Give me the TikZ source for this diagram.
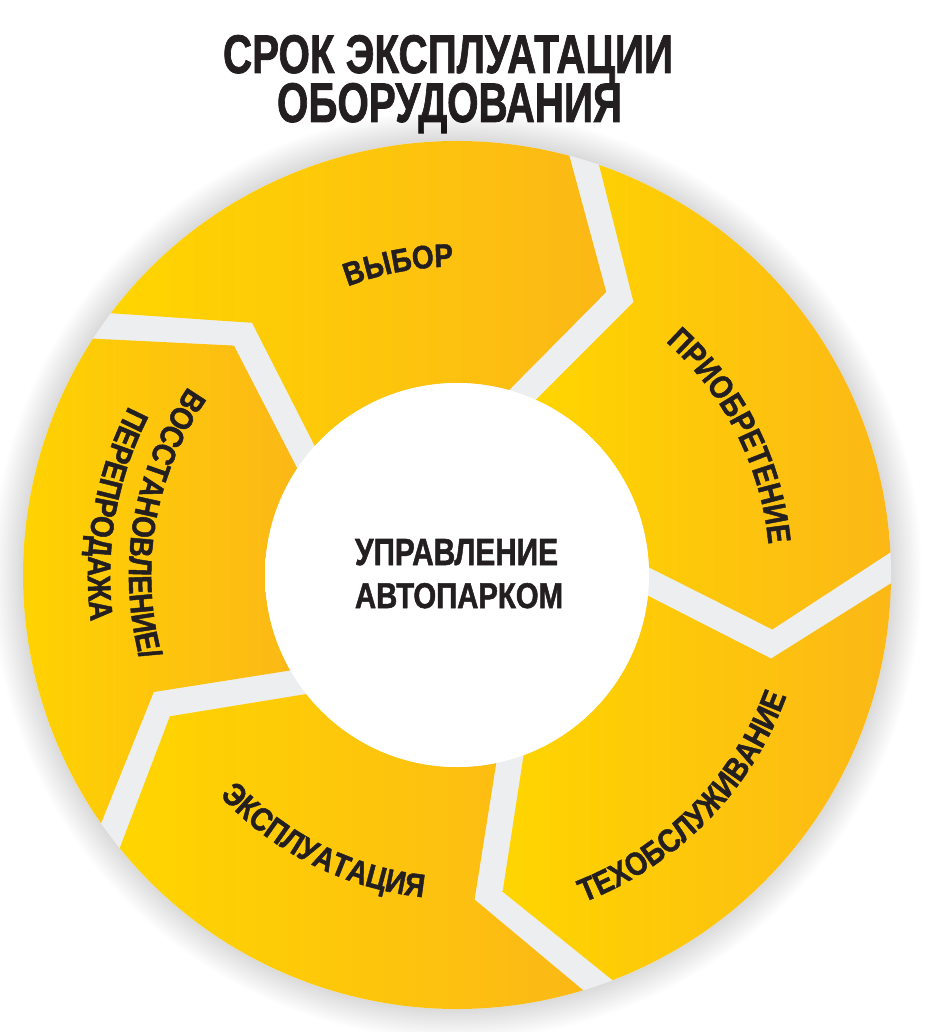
\documentclass[tikz,border=0pt]{standalone}
\usepackage{fontspec}
\usetikzlibrary{decorations.text}
\newfontfamily\condfam{Liberation Sans}[FakeStretch=0.86, BoldFeatures={FakeBold=1.4}]
\definecolor{segY}{HTML}{FFD500}
\definecolor{segO}{HTML}{FCB816}
\definecolor{gapgrey}{HTML}{EDEEEF}
\definecolor{txt}{HTML}{231F20}
\definecolor{glowgrey}{HTML}{E8E9EA}
\pgfdeclareradialshading{innerglow}{\pgfpoint{0bp}{0bp}}{color(0bp)=(white); color(42bp)=(white); color(50bp)=(glowgrey)}
\newcommand{\lblfont}{\condfam\bfseries\fontsize{32.5pt}{36pt}\selectfont}
\newcommand{\bigfont}{\condfam\bfseries\fontsize{53pt}{60pt}\selectfont}
\newcommand{\ringpiece}[1]{%
  \shade[segshade] ({142.9+(#1)}:434) arc[start angle={142.9+(#1)}, end angle={75+(#1)}, radius=434]
    -- ({62.2+(#1)}:320) -- ({74.3+(#1)}:192)
    arc[start angle={74.3+(#1)}, end angle={137.8+(#1)}, radius=192]
    -- ({129.1+(#1)}:325) -- cycle;}
\begin{document}
\begin{tikzpicture}[x=1pt,y=1pt,
  segshade/.style={left color=segY, right color=segO},
  lbl/.style={decorate, decoration={text along path, text color=txt, text align=center, text={#1}}}]
\useasboundingbox (0,0) rectangle (930,-1032);
\fill[white] (0,0) rectangle (930,-1032);
% titles
\node[anchor=base, inner sep=0pt, text=txt] (title1) at (448,-73) {\resizebox{450pt}{38pt}{\bigfont СРОК ЭКСПЛУАТАЦИИ}};
\node[anchor=base, inner sep=0pt, text=txt] (title2) at (449.5,-122) {\resizebox{345pt}{39pt}{\bigfont ОБОРУДОВАНИЯ}};
\begin{scope}[shift={(457,-575)}]
  % soft outer shadow
  \foreach \i in {1,...,18} {\fill[black, opacity=0.006] (0,0) circle ({434+1.7*\i});}
  \fill[gapgrey] (0,0) circle (434);
  % five arrow segments
  \ringpiece{0}
  \ringpiece{-72}
  \ringpiece{-144}
  \ringpiece{-216}
  \ringpiece{-288}
  % inner hub
  \shade[shading=innerglow] (0,0) circle (192);
  % labels
  \path[lbl={|\lblfont|ВЫБОР}] (150.7:308.5) arc[start angle=150.7, end angle=50.7, radius=308.5];
  \path[lbl={|\lblfont|ПРИОБРЕТЕНИЕ}] (86.9:313) arc[start angle=86.9, end angle=-33.1, radius=313];
  \path[lbl={|\lblfont|ТЕХОБСЛУЖИВАНИЕ}] (-104.5:351) arc[start angle=-104.5, end angle=15.5, radius=351];
  \path[lbl={|\lblfont|ЭКСПЛУАТАЦИЯ}] (-166.5:324) arc[start angle=-166.5, end angle=-66.5, radius=324];
  \path[lbl={|\lblfont|ВОССТАНОВЛЕНИЕ/}] (110:328) arc[start angle=110, end angle=230, radius=328];
  \path[lbl={|\lblfont|ПЕРЕПРОДАЖА}] (110:369) arc[start angle=110, end angle=230, radius=369];
\end{scope}
\node[anchor=base, inner sep=0pt, text=txt] (hub1) at (456.5,-565) {\resizebox{203pt}{26pt}{\bigfont УПРАВЛЕНИЕ}};
\node[anchor=base, inner sep=0pt, text=txt] (hub2) at (459,-608) {\resizebox{208pt}{25pt}{\bigfont АВТОПАРКОМ}};
\end{tikzpicture}
\end{document}
